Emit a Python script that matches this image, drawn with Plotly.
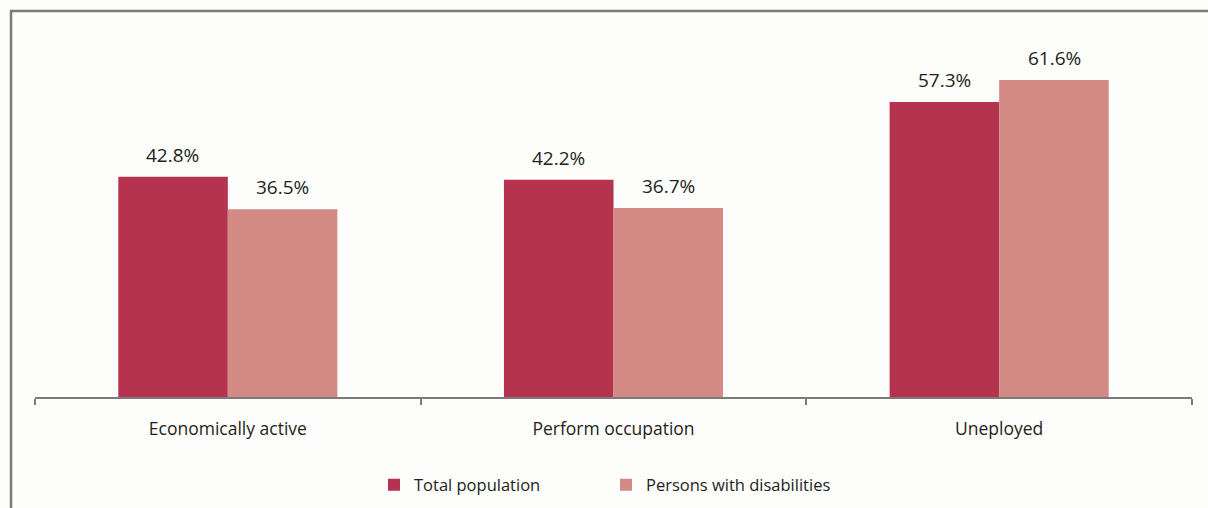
import plotly.graph_objects as go

categories = ["Economically active", "Perform occupation", "Uneployed"]
total_population = [42.8, 42.2, 57.3]
persons_with_disabilities = [36.5, 36.7, 61.6]
series_names = ["Total population", "Persons with disabilities"]

C_TOTAL = "#b5334f"
C_DIS = "#d38a84"
FONT = "Open Sans"
TXT = "#231f20"

W, H = 1208, 508
L, R, T, B = 35, 16, 11, 111
pw, ph = W - L - R, H - T - B

fig = go.Figure()
fig.add_bar(x=categories, y=total_population, name=series_names[0],
            marker=dict(color=C_TOTAL, line=dict(width=0)))
fig.add_bar(x=categories, y=persons_with_disabilities, name=series_names[1],
            marker=dict(color=C_DIS, line=dict(width=0)))

for vals, shift in ((total_population, -55), (persons_with_disabilities, 55)):
    for c, v in zip(categories, vals):
        fig.add_annotation(x=c, y=v, text=f"{v:.1f}%", showarrow=False,
                           xshift=shift, yshift=7, yanchor="bottom",
                           font=dict(family=FONT, size=19, color=TXT))

def px_x(p):
    return (p - L) / pw

def px_y(p):
    return (H - B - p) / ph

frame = dict(color="#7a7a7a", width=2.5)
fig.add_shape(type="line", xref="paper", yref="paper",
              x0=px_x(11), x1=px_x(11), y0=px_y(11), y1=px_y(515), line=frame)
fig.add_shape(type="line", xref="paper", yref="paper",
              x0=px_x(10), x1=px_x(1225), y0=px_y(11), y1=px_y(11), line=frame)

fig.update_layout(
    width=W, height=H,
    margin=dict(l=L, r=R, t=T, b=B, autoexpand=False),
    barmode="group", bargap=0.432, bargroupgap=0,
    paper_bgcolor="#fdfdfb", plot_bgcolor="#fdfdfb",
    font=dict(family=FONT, size=16, color=TXT),
    showlegend=True,
    legend=dict(orientation="h", x=px_x(374), xanchor="left",
                y=px_y(485), yanchor="middle", entrywidth=187, entrywidthmode="pixels",
                font=dict(family=FONT, size=16.5, color=TXT), itemwidth=30,
                bgcolor="rgba(0,0,0,0)"),
    xaxis=dict(showline=True, linecolor="#7a7a7a", linewidth=2, automargin=False,
               ticks="outside", tickson="boundaries", ticklen=6, tickcolor="#7a7a7a",
               tickwidth=2, ticklabelstandoff=15, showgrid=False,
               tickfont=dict(family=FONT, size=17.5, color=TXT)),
    yaxis=dict(range=[0, 75], visible=False, showgrid=False, zeroline=False),
)

fig.write_html("out.html")
